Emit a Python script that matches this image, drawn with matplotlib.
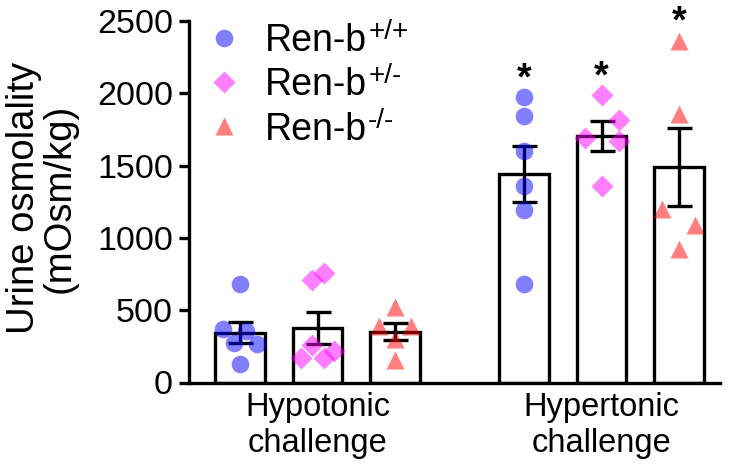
import matplotlib
matplotlib.use("Agg")
import matplotlib.pyplot as plt
import numpy as np

plt.rcParams['font.family'] = ['Liberation Sans', 'DejaVu Sans']

# ---- data ----
groups = ["Hypotonic\nchallenge", "Hypertonic\nchallenge"]
genotypes = ["+/+", "+/-", "-/-"]

hypo_wt = [682, 368, 357, 271, 265, 128]
hypo_het = [710, 756, 260, 168, 168, 218]
hypo_ko = [521, 391, 391, 299, 156]
hyper_wt = [1971, 1842, 1602, 1357, 1196, 683]
hyper_het = [1985, 1814, 1690, 1667, 1362]
hyper_ko = [2364, 1860, 1198, 1089, 921]

bar_means = [345, 378, 352, 1442, 1706, 1490]
bar_sems = [75, 112, 61, 193, 104, 271]
significant = [False, False, False, True, True, True]

# ---- layout / style ----
points = [hypo_wt, hypo_het, hypo_ko, hyper_wt, hyper_het, hyper_ko]
jitter = [
    [0, -0.22, 0.08, -0.08, 0.22, 0],
    [-0.07, 0.08, -0.07, -0.21, 0.08, 0.21],
    [0, -0.21, 0.21, 0, 0],
    [0, 0, 0, 0, 0, 0],
    [0, 0.22, -0.22, 0.22, 0],
    [0, 0, -0.22, 0.21, 0],
]
positions = [1, 2, 3, 4.67, 5.67, 6.67]
colors = [(0, 0, 1), (1, 0, 1), (1, 0, 0)]
markers = ['o', 'D', '^']
msizes = [12.7, 11.0, 12.7]

W, H = 731, 466
fig = plt.figure(figsize=(W / 100, H / 100), dpi=100)
x0, x1, y0, y1 = 189, 720, 382.5, 21
ax = fig.add_axes([x0 / W, (H - y0) / H, (x1 - x0) / W, (y0 - y1) / H])

lw = 2.4
ax.bar(positions, bar_means, width=0.64, facecolor='white', edgecolor='black',
       linewidth=lw, zorder=2)
ax.errorbar(positions, bar_means, yerr=bar_sems, fmt='none', ecolor='black',
            elinewidth=lw, capsize=9, capthick=lw, zorder=3)

handles = []
for i, (vals, jit) in enumerate(zip(points, jitter)):
    k = i % 3
    xs = positions[i] + np.array(jit)
    h, = ax.plot(xs, vals, linestyle='none', marker=markers[k], ms=msizes[k],
                 markerfacecolor=colors[k], markeredgecolor='none', alpha=0.5,
                 zorder=4, clip_on=False)
    if i < 3:
        handles.append(h)

for i, sig in enumerate(significant):
    if sig:
        ax.annotate('*', xy=(positions[i], max(points[i]) + 200),
                    xytext=(0, -15), textcoords='offset points',
                    ha='center', va='baseline', fontsize=27, fontweight='bold',
                    annotation_clip=False)

ax.set_xlim(0.338, 7.2)
ax.set_ylim(0, 2500)
ax.set_yticks([0, 500, 1000, 1500, 2000, 2500])
ax.set_xticks([2, 5.67])
ax.set_xticklabels(groups, fontsize=23.5, linespacing=1.18)
ax.tick_params(axis='x', length=0, pad=7)
ax.tick_params(axis='y', length=7.5, width=lw, labelsize=24.5, pad=4)
for s in ['top', 'right']:
    ax.spines[s].set_visible(False)
for s in ['left', 'bottom']:
    ax.spines[s].set_linewidth(lw)

fig.text(42 / W, 1 - 198 / H, "Urine osmolality\n(mOsm/kg)", rotation=90,
         ha='center', va='center', fontsize=27.5, linespacing=1.0)

leg = ax.legend(handles, ["Ren-b"] * 3, loc='upper left', frameon=False,
                bbox_to_anchor=(205 / W, 1 - 23 / H), bbox_transform=fig.transFigure,
                fontsize=27, handletextpad=0.6, labelspacing=0.22, borderpad=0,
                handlelength=1.0, borderaxespad=0)
for lh in leg.legend_handles:
    lh.set_alpha(0.5)

fig.canvas.draw()
r = fig.canvas.get_renderer()
inv = fig.transFigure.inverted()
for t, g in zip(leg.get_texts(), genotypes):
    bb = t.get_window_extent(r)
    px, py = inv.transform((bb.x1 + 1, bb.y1 - 16))
    fig.text(px, py, g, fontsize=20, ha='left', va='baseline')

fig.savefig("out.png", dpi=100)
